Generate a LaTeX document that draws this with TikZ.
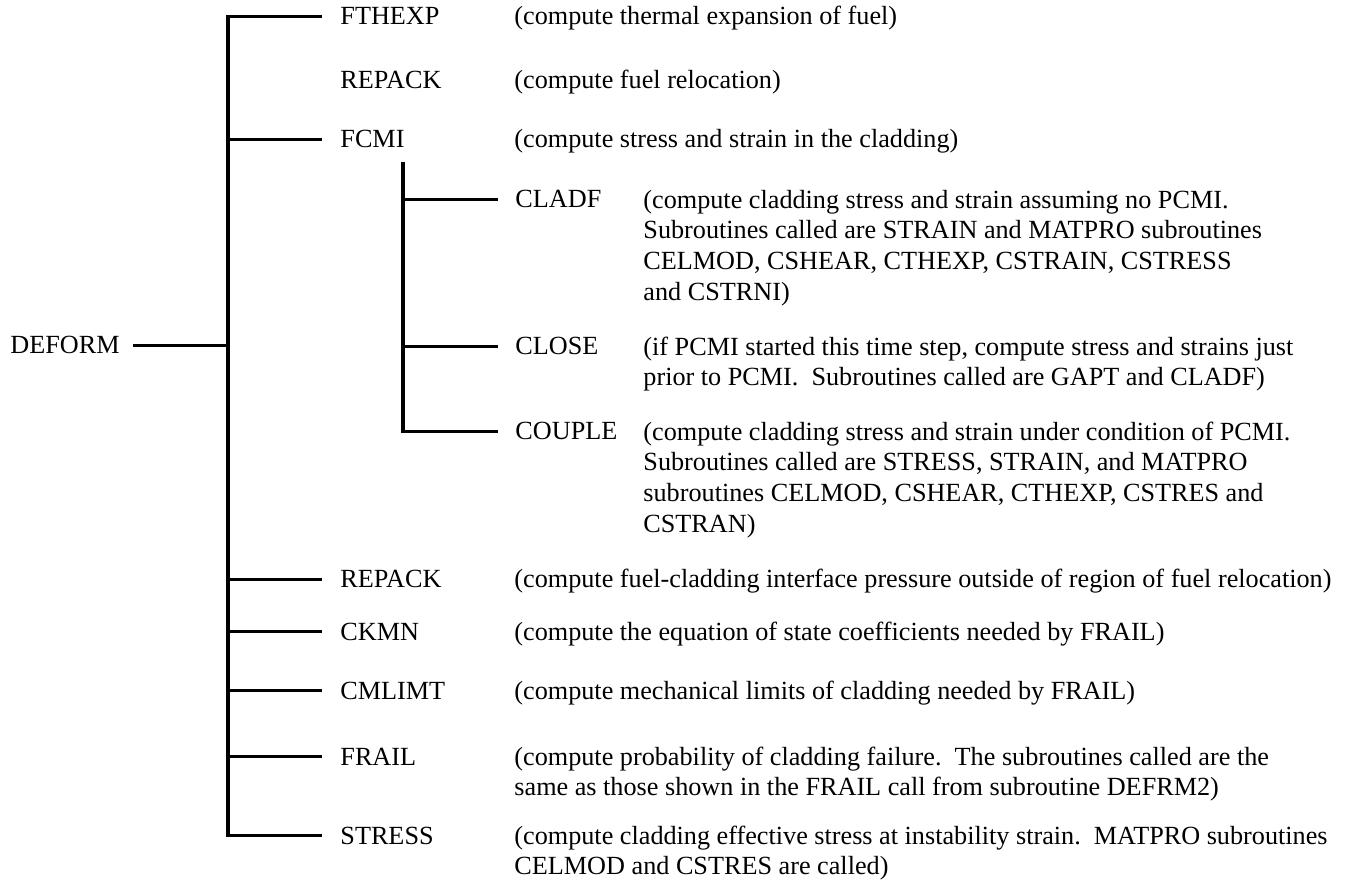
\documentclass[tikz,border=0pt]{standalone}
\usepackage{fontspec}
\setmainfont{Liberation Serif}
\tikzset{
  calltree/.style={line width=1.4pt, draw=black},
  calllabel/.style={anchor=base west, inner sep=0pt, font=\fontsize{12}{14.1}\selectfont},
  callnote/.style={anchor=base west, inner sep=0pt, align=left, font=\fontsize{12}{14.1}\selectfont}
}
\begin{document}
\begin{tikzpicture}[x=0.458pt, y=-0.458pt]
  \useasboundingbox (0,0) rectangle (1347,881);
  \coordinate (spine) at (228,0);
  \coordinate (subspine) at (403,162);
  % caller
  \node[calllabel] (deform) at (10,354) {DEFORM};
  % routines called by DEFORM
  \node[calllabel] (fthexp) at (340,25) {FTHEXP};
  \node[calllabel] (repacka) at (340,89) {REPACK};
  \node[calllabel] (fcmi) at (340,148) {FCMI};
  \node[calllabel] (repackb) at (340,588) {REPACK};
  \node[calllabel] (ckmn) at (340,640) {CKMN};
  \node[calllabel] (cmlimt) at (340,699) {CMLIMT};
  \node[calllabel] (frail) at (340,765) {FRAIL};
  \node[calllabel] (stress) at (340,844) {STRESS};
  % routines called by FCMI
  \node[calllabel] (cladf) at (515,208) {CLADF};
  \node[calllabel] (close) at (515,355) {CLOSE};
  \node[calllabel] (couple) at (515,440) {COUPLE};
  % what each one does (base = last line, 30.8 per line)
  \node[callnote] (fthexpnote) at (514,25) {(compute thermal expansion of fuel)};
  \node[callnote] (repackanote) at (514,89) {(compute fuel relocation)};
  \node[callnote] (fcminote) at (514,148) {(compute stress and strain in the cladding)};
  \node[callnote] (cladfnote) at (643,300.4) {(compute cladding stress and strain assuming no PCMI.\\Subroutines called are STRAIN and MATPRO subroutines\\CELMOD, CSHEAR, CTHEXP, CSTRAIN, CSTRESS\\and CSTRNI)};
  \node[callnote] (closenote) at (643,385.8) {(if PCMI started this time step, compute stress and strains just\\prior to PCMI.\ \ Subroutines called are GAPT and CLADF)};
  \node[callnote] (couplenote) at (643,532.4) {(compute cladding stress and strain under condition of PCMI.\\Subroutines called are STRESS, STRAIN, and MATPRO\\subroutines CELMOD, CSHEAR, CTHEXP, CSTRES and\\CSTRAN)};
  \node[callnote] (repackbnote) at (514,588) {(compute fuel-cladding interface pressure outside of region of fuel relocation)};
  \node[callnote] (ckmnnote) at (514,640) {(compute the equation of state coefficients needed by FRAIL)};
  \node[callnote] (cmlimtnote) at (514,699) {(compute mechanical limits of cladding needed by FRAIL)};
  \node[callnote] (frailnote) at (514,795.8) {(compute probability of cladding failure.\ \ The subroutines called are the\\same as those shown in the FRAIL call from subroutine DEFRM2)};
  \node[callnote] (stressnote) at (514,874.8) {(compute cladding effective stress at instability strain.\ \ MATPRO subroutines\\CELMOD and CSTRES are called)};
  % tree lines
  \draw[calltree, shorten <=6pt] (deform.east) -- (spine |- deform.east);
  \draw[calltree, shorten <=8.3pt, shorten >=8.3pt] (fthexp.west) -- (spine |- fthexp.west) -- (spine |- stress.west) -- (stress.west);
  \foreach \n in {fcmi,repackb,ckmn,cmlimt,frail}
    \draw[calltree, shorten >=8.3pt] (spine |- \n.west) -- (\n.west);
  \draw[calltree, shorten >=7.8pt] (subspine) -- (subspine |- couple.west) -- (couple.west);
  \foreach \n in {cladf,close}
    \draw[calltree, shorten >=7.8pt] (subspine |- \n.west) -- (\n.west);
\end{tikzpicture}
\end{document}
